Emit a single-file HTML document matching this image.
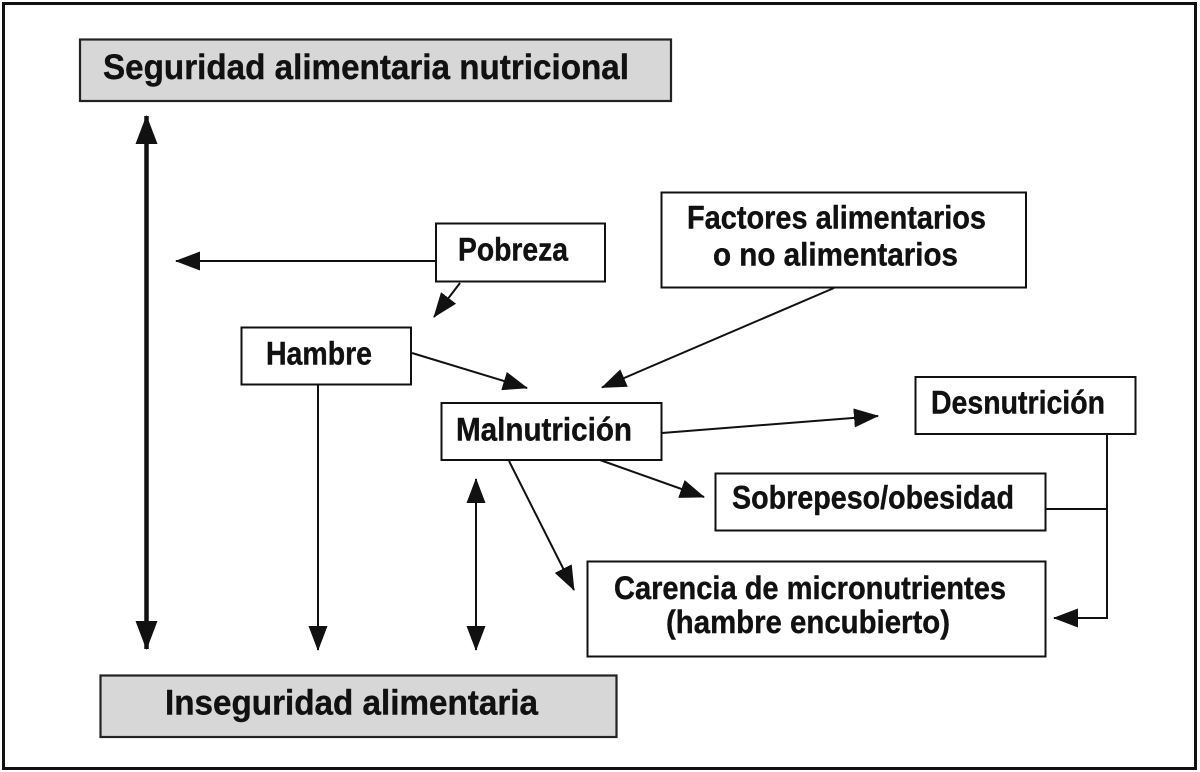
<!DOCTYPE html>
<html>
<head>
<meta charset="utf-8">
<style>
  html, body { margin: 0; padding: 0; background: #ffffff; }
  body { width: 1200px; height: 772px; overflow: hidden; }
  svg { display: block; }
  text { font-family: "Liberation Sans", "DejaVu Sans", sans-serif; font-weight: bold; fill: #111; stroke: #111; stroke-width: 0.4px; }
</style>
</head>
<body>
<svg width="1200" height="772" viewBox="0 0 1200 772" xmlns="http://www.w3.org/2000/svg">
  <defs>
    <marker id="ah" viewBox="0 0 25 19" refX="24" refY="9.5" markerWidth="25" markerHeight="19" markerUnits="userSpaceOnUse" orient="auto-start-reverse">
      <path d="M0,0 L25,9.5 L0,19 z" fill="#111"/>
    </marker>
    <marker id="ahb" viewBox="0 0 29 22" refX="28" refY="11" markerWidth="29" markerHeight="22" markerUnits="userSpaceOnUse" orient="auto-start-reverse">
      <path d="M0,0 L29,11 L0,22 z" fill="#111"/>
    </marker>
  </defs>

  <!-- outer frame -->
  <rect x="3.5" y="3.5" width="1192" height="765" fill="none" stroke="#111" stroke-width="3"/>

  <!-- top gray box -->
  <rect x="80" y="39.5" width="591" height="61.5" fill="#d7d7d7" stroke="#222" stroke-width="2.2"/>
  <text x="103" y="79" font-size="35" textLength="526" lengthAdjust="spacingAndGlyphs">Seguridad alimentaria nutricional</text>

  <!-- bottom gray box -->
  <rect x="100.5" y="675.5" width="516" height="61.5" fill="#d7d7d7" stroke="#222" stroke-width="2.2"/>
  <text x="165" y="714.5" font-size="35" textLength="373" lengthAdjust="spacingAndGlyphs">Inseguridad alimentaria</text>

  <!-- thick double arrow -->
  <line x1="146.5" y1="116" x2="146.5" y2="649" stroke="#111" stroke-width="4.5" marker-start="url(#ahb)" marker-end="url(#ahb)"/>

  <!-- Pobreza -->
  <rect x="436" y="223.5" width="169" height="58" fill="#fff" stroke="#111" stroke-width="2"/>
  <text x="458" y="260.5" font-size="32" textLength="110" lengthAdjust="spacingAndGlyphs">Pobreza</text>
  <line x1="436" y1="261" x2="176" y2="261" stroke="#111" stroke-width="2" marker-end="url(#ah)"/>
  <line x1="460" y1="283" x2="434" y2="317" stroke="#111" stroke-width="2" marker-end="url(#ah)"/>

  <!-- Hambre -->
  <rect x="241.5" y="327.5" width="169.5" height="57" fill="#fff" stroke="#111" stroke-width="2"/>
  <text x="266" y="364.5" font-size="32" textLength="106" lengthAdjust="spacingAndGlyphs">Hambre</text>
  <line x1="318" y1="385" x2="318" y2="650" stroke="#111" stroke-width="2" marker-end="url(#ah)"/>
  <line x1="412" y1="353" x2="527" y2="388" stroke="#111" stroke-width="2" marker-end="url(#ah)"/>

  <!-- Factores -->
  <rect x="661.5" y="192.5" width="364.5" height="95" fill="#fff" stroke="#111" stroke-width="2"/>
  <text x="687" y="228.5" font-size="32" textLength="299" lengthAdjust="spacingAndGlyphs">Factores alimentarios</text>
  <text x="713" y="265.5" font-size="32" textLength="245" lengthAdjust="spacingAndGlyphs">o no alimentarios</text>
  <line x1="834" y1="288" x2="602" y2="387.5" stroke="#111" stroke-width="2" marker-end="url(#ah)"/>

  <!-- Malnutrición -->
  <rect x="441.5" y="403" width="220" height="57" fill="#fff" stroke="#111" stroke-width="2"/>
  <text x="456" y="440.5" font-size="32" textLength="176" lengthAdjust="spacingAndGlyphs">Malnutrición</text>
  <line x1="662" y1="433" x2="878" y2="416" stroke="#111" stroke-width="2" marker-end="url(#ah)"/>
  <line x1="600" y1="460" x2="704" y2="497" stroke="#111" stroke-width="2" marker-end="url(#ah)"/>
  <line x1="509" y1="461" x2="574" y2="590" stroke="#111" stroke-width="2" marker-end="url(#ah)"/>
  <line x1="476" y1="479" x2="476" y2="650" stroke="#111" stroke-width="2" marker-start="url(#ah)" marker-end="url(#ah)"/>

  <!-- Desnutrición -->
  <rect x="915.5" y="377" width="220" height="57" fill="#fff" stroke="#111" stroke-width="2"/>
  <text x="931" y="413.5" font-size="32" textLength="174" lengthAdjust="spacingAndGlyphs">Desnutrición</text>
  <polyline points="1107,434 1107,618 1054,618" fill="none" stroke="#111" stroke-width="2" marker-end="url(#ah)"/>

  <!-- Sobrepeso/obesidad -->
  <rect x="715.5" y="473.5" width="330" height="57" fill="#fff" stroke="#111" stroke-width="2"/>
  <text x="732" y="508.5" font-size="32" textLength="282" lengthAdjust="spacingAndGlyphs">Sobrepeso/obesidad</text>
  <line x1="1045" y1="509" x2="1107" y2="509" stroke="#111" stroke-width="2"/>

  <!-- Carencia -->
  <rect x="587.5" y="561.5" width="458" height="95" fill="#fff" stroke="#111" stroke-width="2"/>
  <text x="614" y="599" font-size="32" textLength="392" lengthAdjust="spacingAndGlyphs">Carencia de micronutrientes</text>
  <text x="666" y="633" font-size="32" textLength="284" lengthAdjust="spacingAndGlyphs">(hambre encubierto)</text>
</svg>
</body>
</html>
